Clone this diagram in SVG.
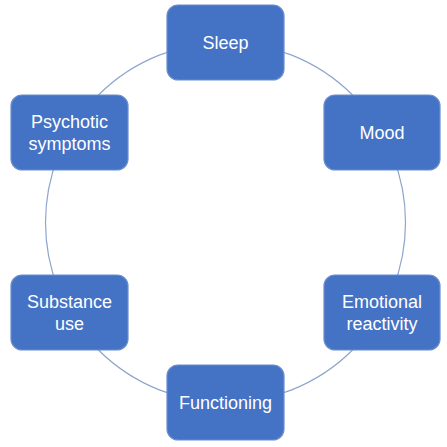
<svg xmlns="http://www.w3.org/2000/svg" width="447" height="447" viewBox="0 0 447 447">
<style>
.box{fill:#4472C4;stroke:#6A8DCD;stroke-width:1.2}
.lbl{font-family:"Liberation Sans",Arial,sans-serif;font-size:18px;fill:#FFFFFF;text-anchor:middle}
.ring{fill:none;stroke:#8EA5CC;stroke-width:1.2}
</style>
<rect width="447" height="447" fill="#FFFFFF"/>
<g id="connectors">
<circle class="ring" cx="225.5" cy="222.5" r="180"/>
</g>
<g id="sleep"><rect class="box" x="167" y="5" width="117" height="75" rx="11"/><text class="lbl" x="225.5" y="49">Sleep</text></g>
<g id="mood"><rect class="box" x="324" y="95" width="116" height="75" rx="11"/><text class="lbl" x="382" y="139">Mood</text></g>
<g id="emotional"><rect class="box" x="324" y="275" width="116" height="75" rx="11"/><text class="lbl" x="382" y="307.5">Emotional</text><text class="lbl" x="382" y="330">reactivity</text></g>
<g id="functioning"><rect class="box" x="167" y="365" width="117" height="75" rx="11"/><text class="lbl" x="225.5" y="409">Functioning</text></g>
<g id="substance"><rect class="box" x="11" y="275" width="117" height="75" rx="11"/><text class="lbl" x="69.5" y="307.5">Substance</text><text class="lbl" x="69.5" y="329.5">use</text></g>
<g id="psychotic"><rect class="box" x="11" y="95" width="117" height="75" rx="11"/><text class="lbl" x="69.5" y="127.5">Psychotic</text><text class="lbl" x="69.5" y="149.5">symptoms</text></g>
</svg>
